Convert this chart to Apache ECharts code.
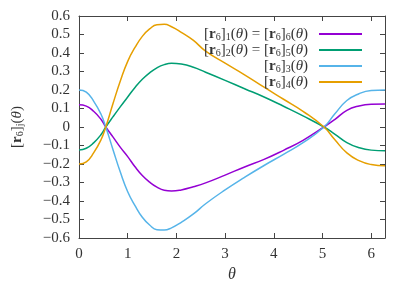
<!DOCTYPE html>
<html>
<head>
<meta charset="utf-8">
<script src="https://cdn.jsdelivr.net/npm/echarts@6/dist/echarts.min.js"></script>
<style>html,body{margin:0;padding:0;background:#fff}#c{width:415px;height:291px}</style>
</head>
<body>
<div id="c"></div>
<script>
// Data
const theta = [0, 0.15, 0.3, 0.45, 0.55, 0.7, 0.85, 1.0, 1.15, 1.3, 1.45, 1.6, 1.75, 1.9, 2.1, 2.35, 2.6, 3.0, 3.4, 3.8, 4.2, 4.6, 5.03, 5.25, 5.5, 5.75, 6.0, 6.283];
const r1 = [0.120, 0.113, 0.085, 0.042, 0.000, -0.055, -0.110, -0.160, -0.215, -0.262, -0.298, -0.325, -0.342, -0.346, -0.340, -0.323, -0.302, -0.260, -0.216, -0.175, -0.126, -0.072, 0.000, 0.040, 0.090, 0.114, 0.123, 0.124];
const r2 = [-0.124, -0.115, -0.086, -0.042, 0.000, 0.056, 0.110, 0.162, 0.214, 0.258, 0.293, 0.320, 0.337, 0.344, 0.340, 0.323, 0.296, 0.252, 0.207, 0.162, 0.112, 0.060, 0.000, -0.038, -0.084, -0.112, -0.125, -0.128];
const r3 = [0.200, 0.188, 0.140, 0.070, 0.000, -0.124, -0.245, -0.350, -0.425, -0.488, -0.530, -0.555, -0.557, -0.545, -0.515, -0.470, -0.415, -0.340, -0.272, -0.208, -0.148, -0.085, 0.000, 0.070, 0.143, 0.180, 0.197, 0.200];
const r4 = [-0.200, -0.188, -0.140, -0.070, 0.000, 0.128, 0.250, 0.355, 0.430, 0.490, 0.530, 0.553, 0.555, 0.542, 0.512, 0.468, 0.410, 0.345, 0.282, 0.215, 0.150, 0.085, 0.000, -0.068, -0.140, -0.182, -0.203, -0.210];
const seriesNames = ['[r6]1(θ) = [r6]6(θ)', '[r6]2(θ) = [r6]5(θ)', '[r6]3(θ)', '[r6]4(θ)'];
const legendLabels = [
  '[{b|r}{s|6}]{s|1}({i|θ}) = [{b|r}{s|6}]{s|6}({i|θ}){g|}',
  '[{b|r}{s|6}]{s|2}({i|θ}) = [{b|r}{s|6}]{s|5}({i|θ}){g|}',
  '[{b|r}{s|6}]{s|3}({i|θ}){g|}',
  '[{b|r}{s|6}]{s|4}({i|θ}){g|}'
];
const colors = ['#9400d3', '#009e73', '#56b4e9', '#e69f00'];
const xTicks = [0, 1, 2, 3, 4, 5, 6];
const yTickStep = 0.1;

const FONT = 'Liberation Serif';
const TXT = '#333';
const AX = '#444';
const rich = {
  b: {fontFamily: FONT, fontSize: 15, fontWeight: 'bold', color: TXT, lineHeight: 16},
  s: {fontFamily: FONT, fontSize: 10, color: TXT, verticalAlign: 'bottom', lineHeight: 11},
  i: {fontFamily: FONT, fontSize: 15, fontStyle: 'italic', color: TXT, lineHeight: 16},
  g: {width: 6}
};
const allR = [r1, r2, r3, r4];

const chart = echarts.init(document.getElementById('c'), null, {renderer: 'canvas'});
const yFmt = v => { const r = Math.round(v * 10) / 10; if (r === 0) return '0'; return (r < 0 ? '−' : '') + Math.abs(r).toFixed(1); };
const xFmt = v => { const r = Math.round(v); return (Math.abs(v - r) < 1e-6 && xTicks.indexOf(r) >= 0) ? String(r) : ''; };

const baseAxis = {
  axisLine: {show: true, onZero: false, lineStyle: {color: AX, width: 1}},
  axisTick: {show: true, inside: true, length: 5, lineStyle: {color: AX}},
  splitLine: {show: false}
};

chart.setOption({
  animation: false,
  backgroundColor: '#fff',
  grid: {left: 79, right: 30, top: 16, bottom: 53, containLabel: false},
  xAxis: [
    Object.assign({}, baseAxis, {
      type: 'value', min: 0, max: 2 * Math.PI, interval: 1, position: 'bottom',
      name: 'θ', nameLocation: 'middle', nameGap: 27,
      nameTextStyle: {fontFamily: FONT, fontSize: 16, fontStyle: 'italic', color: TXT},
      axisLabel: {formatter: xFmt, showMaxLabel: false, margin: 9, fontFamily: FONT, fontSize: 15, color: TXT}
    }),
    Object.assign({}, baseAxis, {
      type: 'value', min: 0, max: 2 * Math.PI, interval: 1, position: 'top',
      axisLabel: {show: false}
    })
  ],
  yAxis: [
    Object.assign({}, baseAxis, {
      type: 'value', min: -0.6, max: 0.6, interval: yTickStep, position: 'left',
      name: '[{b|r}{s|6}]{s|j}({i|θ})', nameLocation: 'middle', nameGap: 54, nameRotate: 90,
      nameTextStyle: {fontFamily: FONT, fontSize: 15, color: TXT, lineHeight: 16, rich: rich},
      axisLabel: {formatter: yFmt, margin: 9, fontFamily: FONT, fontSize: 15, color: TXT}
    }),
    Object.assign({}, baseAxis, {
      type: 'value', min: -0.6, max: 0.6, interval: yTickStep, position: 'right',
      axisLabel: {show: false}
    })
  ],
  legend: seriesNames.map((n, i) => ({
    data: [n], right: 53, top: 26 + i * 16, orient: 'horizontal', align: 'right',
    icon: 'rect', itemWidth: 43, itemHeight: 2, padding: 0, itemGap: 0,
    selectedMode: false,
    formatter: () => legendLabels[i],
    textStyle: {fontFamily: FONT, fontSize: 15, color: TXT, lineHeight: 16, rich: rich}
  })),
  series: seriesNames.map((n, i) => ({
    name: n, type: 'line', smooth: 0.5, showSymbol: false, symbol: 'none',
    xAxisIndex: 0, yAxisIndex: 0,
    lineStyle: {color: colors[i], width: 1.5},
    itemStyle: {color: colors[i]},
    data: theta.map((t, k) => [t, allR[i][k]])
  }))
});
</script>
</body>
</html>
